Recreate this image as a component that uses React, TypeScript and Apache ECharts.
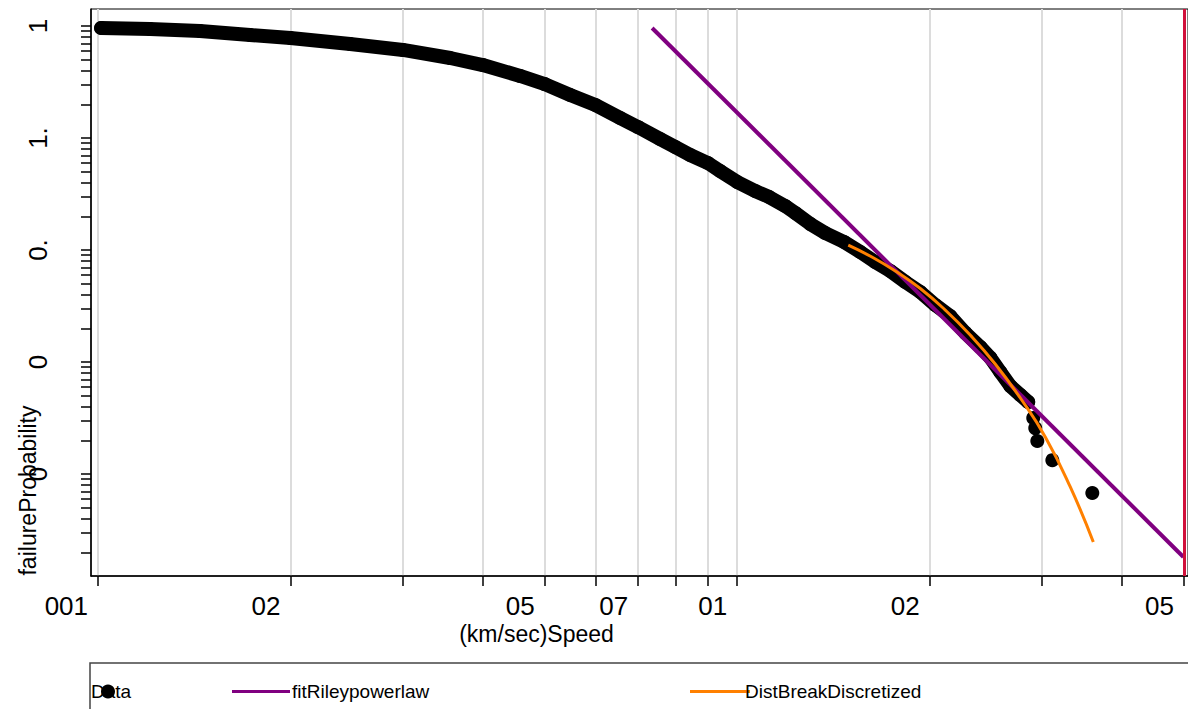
import React, { useEffect, useRef } from "react";
import * as echarts from "echarts";

// Empirical survival data (speed km/sec, survival probability)
const speed = [
  0.01011, 0.01206, 0.01444, 0.01729, 0.02, 0.0248, 0.03, 0.03556, 0.04, 0.04575,
  0.05, 0.0548, 0.06, 0.0656, 0.07, 0.07575, 0.08, 0.08441, 0.09, 0.09406,
  0.1, 0.1067, 0.1122, 0.1189, 0.1233, 0.1301, 0.1373, 0.147, 0.1558, 0.1644,
  0.1736, 0.1833, 0.1934, 0.2041, 0.2154, 0.2274, 0.2401, 0.2489, 0.258, 0.2675,
  0.2773, 0.2853, 0.2905, 0.2926, 0.2948, 0.3112, 0.3594,
];
const survival = [
  0.96, 0.94, 0.902, 0.831, 0.781, 0.691, 0.611, 0.518, 0.448, 0.358,
  0.303, 0.242, 0.197, 0.151, 0.125, 0.098, 0.0831, 0.0705, 0.0598, 0.0507,
  0.0405, 0.0336, 0.0297, 0.0247, 0.0214, 0.0171, 0.01418, 0.01179, 0.0096, 0.00781,
  0.00649, 0.00518, 0.00422, 0.00323, 0.00257, 0.00182, 0.00136, 0.00109, 0.000814, 0.000611,
  0.000507, 0.000439, 0.000316, 0.000257, 0.000197, 0.000133, 0.0000677,
];
const bandCount = 42; // points drawn as a continuous dense band

// Power-law (Riley) fit
const fitSpeed = [0.0736, 0.499];
const fitSurvival = [0.96, 0.00001815];

// Discretized fit
const discSpeed = [0.1492, 0.1614, 0.1768, 0.1934, 0.2116, 0.2315, 0.2533, 0.2773, 0.3034, 0.332, 0.3607];
const discSurvival = [0.01108, 0.00884, 0.00649, 0.00453, 0.00291, 0.00174, 0.00096, 0.000477, 0.000214, 0.0000766, 0.0000247];

const cutoffSpeed = 0.5;

const xTickValues = [0.01, 0.02, 0.03, 0.04, 0.05, 0.06, 0.07, 0.08, 0.09, 0.1, 0.2, 0.3, 0.4, 0.5];
const xLabelValues = [0.01, 0.02, 0.05, 0.07, 0.1, 0.2, 0.5];
const xLabelTexts = ["001", "02", "05", "07", "01", "02", "05"];
const yLabelValues = [1, 0.1, 0.01, 0.001, 0.0001];
const yLabelTexts = ["1", "1.", "0.", "0", "0"];

const seriesNames = ["Data", "fitRileypowerlaw", "DistBreakDiscretized"];
const xName = "(km/sec)Speed";
const yName = "failureProbability";

const lg = (v: number) => Math.log10(v);
const FONT = "'Liberation Sans', Arial, sans-serif";

function yTickValues(): number[] {
  const out: number[] = [];
  for (let e = -5; e <= 0; e++) {
    for (let k = 1; k <= 9; k++) out.push(lg(k * Math.pow(10, e)));
  }
  return out;
}

function pickText(values: number[], texts: string[], v: number) {
  const i = values.findIndex((x) => Math.abs(lg(x) - v) < 1e-6);
  return i >= 0 ? texts[i] : "";
}

export default function App() {
  const ref = useRef<HTMLDivElement>(null);
  useEffect(() => {
    if (!ref.current) return;
    const chart = echarts.init(ref.current, undefined, { renderer: "svg" });
    const pts = speed.map((s, i) => [lg(s), lg(survival[i])]);
    const option: any = {
      animation: false,
      backgroundColor: "#fff",
      textStyle: { fontFamily: FONT },
      grid: {
        left: 91, right: 0, top: 9, bottom: 133,
        containLabel: false, outerBoundsMode: "none",
        show: true, borderColor: "#000", borderWidth: 1, backgroundColor: "transparent",
      },
      xAxis: {
        type: "value",
        min: -2.011,
        max: -0.2947,
        name: xName,
        nameLocation: "middle",
        nameGap: 46,
        nameMoveOverlap: false,
        nameTextStyle: { fontFamily: FONT, fontSize: 23, color: "#000", padding: [0, 206, 0, 0] },
        axisLine: { show: true, onZero: false, lineStyle: { color: "#000", width: 1.5 } },
        axisTick: { show: true, inside: false, length: 10, customValues: xTickValues.map(lg), lineStyle: { color: "#000", width: 1.5 } },
        axisLabel: {
          show: true,
          customValues: xLabelValues.map(lg),
          formatter: (v: number) => pickText(xLabelValues, xLabelTexts, v),
          fontFamily: FONT,
          fontSize: 26,
          color: "#000",
          align: "right",
          padding: [0, 10, 0, 0],
          margin: 17,
        },
        splitLine: { show: true, lineStyle: { color: "#dcdcdc", width: 2 } },
      },
      yAxis: {
        type: "value",
        min: -4.9107,
        max: 0.1518,
        name: yName,
        nameLocation: "middle",
        nameRotate: 90,
        nameGap: 52,
        nameMoveOverlap: false,
        nameTextStyle: { fontFamily: FONT, fontSize: 23, color: "#000", padding: [0, 396, 0, 0] },
        axisLine: { show: true, onZero: false, lineStyle: { color: "#000", width: 1.5 } },
        axisTick: { show: true, inside: false, length: 10, customValues: yTickValues(), lineStyle: { color: "#000", width: 1.5 } },
        axisLabel: {
          show: true,
          customValues: yLabelValues.map(lg),
          formatter: (v: number) => pickText(yLabelValues, yLabelTexts, v),
          rotate: 90,
          fontFamily: FONT,
          fontSize: 26,
          color: "#000",
          margin: 40,
        },
        splitLine: { show: false },
      },
      legend: [
        {
          left: 86, top: 677, itemWidth: 14, itemHeight: 14,
          data: [{ name: seriesNames[0], icon: "circle" }],
          textStyle: { fontFamily: FONT, fontSize: 19, color: "#000", padding: [0, 0, 0, -29] },
        },
        {
          left: 227, top: 677, itemWidth: 58, itemHeight: 3,
          data: [{ name: seriesNames[1], icon: "rect" }],
          textStyle: { fontFamily: FONT, fontSize: 19, color: "#000", padding: [0, 0, 0, -3] },
        },
        {
          left: 685, top: 677, itemWidth: 60, itemHeight: 3,
          data: [{ name: seriesNames[2], icon: "rect" }],
          textStyle: { fontFamily: FONT, fontSize: 19, color: "#000", padding: [0, 0, 0, -10] },
        },
      ],
      graphic: [
        {
          type: "rect",
          shape: { x: 90, y: 663, width: 1200, height: 100 },
          style: { fill: "none", stroke: "#444", lineWidth: 1.5 },
          silent: true,
        },
      ],
      series: [
        {
          name: seriesNames[0] + " band",
          type: "line",
          data: pts.slice(0, bandCount),
          showSymbol: false,
          symbol: "none",
          smooth: false,
          lineStyle: { color: "#000", width: 14, cap: "round", join: "round" },
          silent: true,
          z: 3,
        },
        {
          name: seriesNames[0],
          type: "scatter",
          data: pts,
          symbol: "circle",
          symbolSize: 14,
          itemStyle: { color: "#000", opacity: 1 },
          z: 3,
        },
        {
          name: seriesNames[1],
          type: "line",
          data: fitSpeed.map((s, i) => [lg(s), lg(fitSurvival[i])]),
          showSymbol: false,
          symbol: "none",
          lineStyle: { color: "#800080", width: 4 },
          itemStyle: { color: "#800080" },
          z: 4,
          markLine: {
            symbol: "none",
            silent: true,
            label: { show: false },
            lineStyle: { color: "#d0103a", width: 3, type: "solid" },
            data: [{ xAxis: lg(cutoffSpeed) }],
          },
        },
        {
          name: seriesNames[2],
          type: "line",
          data: discSpeed.map((s, i) => [lg(s), lg(discSurvival[i])]),
          showSymbol: false,
          symbol: "none",
          smooth: true,
          lineStyle: { color: "#ff8000", width: 3 },
          itemStyle: { color: "#ff8000" },
          z: 5,
        },
      ],
    };
    chart.setOption(option);
    return () => chart.dispose();
  }, []);
  return <div ref={ref} style={{ position: "fixed", left: 0, top: 0, width: 1188, height: 709 }} />;
}
